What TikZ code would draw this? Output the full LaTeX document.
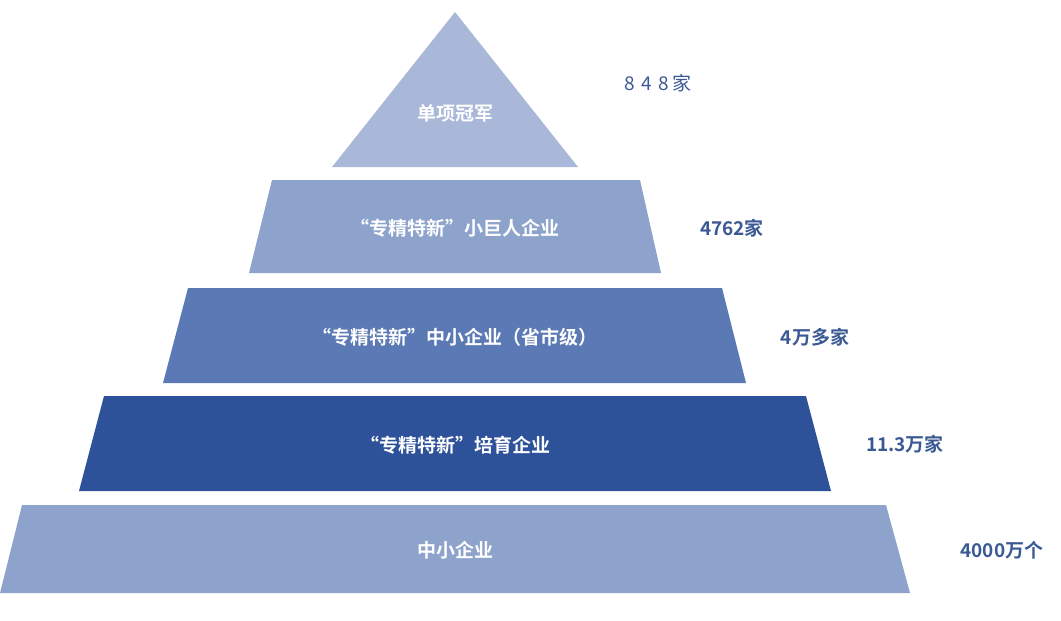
\documentclass[tikz,border=0pt]{standalone}
\usepackage{fontspec}
\setmainfont{Noto Sans CJK SC}
\newfontfamily\cjkb{Noto Sans CJK SC Bold}
\definecolor{lv1}{HTML}{A9B8D9}
\definecolor{lv2}{HTML}{8EA3CC}
\definecolor{lv3}{HTML}{5B79B4}
\definecolor{lv4}{HTML}{2E529A}
\definecolor{lab}{HTML}{3B5A94}
\begin{document}
\begin{tikzpicture}[x=1pt,y=-1pt,
  tier/.style={white,font=\cjkb\fontsize{19}{22}\selectfont},
  val/.style={lab,font=\cjkb\fontsize{19}{22}\selectfont}]
\useasboundingbox (0,0) rectangle (1061,621);
\clip (0,0) rectangle (1061,621);
\fill[lv1] (455,12) -- (578,167) -- (332,167) -- cycle;
\fill[lv2] (272,180) -- (640,180) -- (661,273) -- (249,273) -- cycle;
\fill[lv3] (188,288) -- (722,288) -- (746,383) -- (163,383) -- cycle;
\fill[lv4] (104,396) -- (806,396) -- (831,491) -- (79,491) -- cycle;
\fill[lv2] (22,505) -- (886,505) -- (910,593) -- (0,593) -- cycle;
\node[tier] (t1) at (455,113) {单项冠军};
\node[tier] (t2) at (455,228) {“专精特新”小巨人企业};
\node[tier] (t3) at (455,337) {“专精特新”中小企业（省市级）};
\node[tier] (t4) at (455,445) {“专精特新”培育企业};
\node[tier] (t5) at (455,550) {中小企业};
\node[lab,font=\fontsize{19}{22}\selectfont] (v1) at (658,83) {8\,\,4\,\,8\,家};
\node[val] (v2) at (732,228) {4762家};
\node[val] (v3) at (815,337) {4万多家};
\node[val] (v4) at (905,444) {11.3万家};
\node[val,anchor=west] (v5) at (957,550) {4000万个};
\end{tikzpicture}
\end{document}
